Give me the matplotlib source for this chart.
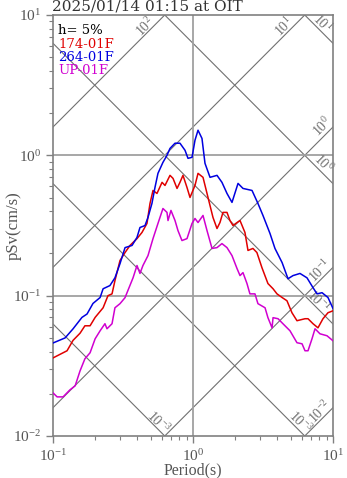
import numpy as np
import matplotlib
matplotlib.use('Agg')
import matplotlib.pyplot as plt

plt.rcParams['font.family'] = ['Liberation Serif', 'DejaVu Serif']
plt.rcParams['mathtext.fontset'] = 'custom'
plt.rcParams['mathtext.rm'] = 'Liberation Serif'

# spectra (period s, pSv cm/s)
t_ew = [0.1, 0.122, 0.139, 0.161, 0.175, 0.193, 0.217, 0.228, 0.255, 0.277,
        0.301, 0.327, 0.367, 0.398, 0.418, 0.454, 0.477, 0.509, 0.535, 0.562,
        0.610, 0.652, 0.685, 0.744, 0.807, 0.877, 0.921, 0.984, 1.033, 1.086,
        1.159, 1.218, 1.323, 1.484, 1.61, 1.749, 1.899, 2.097, 2.275, 2.64,
        2.91, 3.16, 3.55, 3.85, 4.33, 4.77, 5.18, 5.81, 6.52, 7.2,
        7.69, 8.35, 9.21, 10.0]
sv_ew = [0.046, 0.050, 0.058, 0.070, 0.074, 0.088, 0.097, 0.112, 0.118, 0.134,
         0.169, 0.220, 0.228, 0.260, 0.306, 0.316, 0.361, 0.454, 0.590, 0.744,
         0.891, 1.0, 1.12, 1.22, 1.22, 1.086, 0.952, 0.968, 1.28, 1.51,
         1.32, 0.877, 0.697, 0.72, 0.642, 0.535, 0.462, 0.631, 0.581, 0.562,
         0.454, 0.373, 0.277, 0.217, 0.172, 0.132, 0.139, 0.144, 0.134, 0.114,
         0.103, 0.105, 0.097, 0.081]

t_ns = [0.1, 0.126, 0.139, 0.156, 0.169, 0.184, 0.2, 0.228, 0.247, 0.264,
        0.277, 0.301, 0.327, 0.355, 0.398, 0.432, 0.469, 0.493, 0.518, 0.553,
        0.601, 0.631, 0.685, 0.72, 0.769, 0.807, 0.848, 0.906, 0.952, 1.033,
        1.086, 1.179, 1.28, 1.389, 1.484, 1.558, 1.637, 1.749, 1.837, 1.931,
        2.063, 2.167, 2.35, 2.47, 2.68, 2.86, 3.11, 3.43, 3.73, 3.98,
        4.33, 4.69, 5.09, 5.53, 6.31, 6.63, 7.2, 7.81, 8.48, 9.21, 10.0]
sv_ns = [0.036, 0.0405, 0.048, 0.054, 0.061, 0.061, 0.070, 0.082, 0.100, 0.103,
         0.128, 0.178, 0.203, 0.228, 0.255, 0.282, 0.327, 0.454, 0.562, 0.535,
         0.642, 0.61, 0.72, 0.685, 0.581, 0.642, 0.72, 0.59, 0.501, 0.61,
         0.744, 0.697, 0.501, 0.361, 0.301, 0.332, 0.392, 0.392, 0.343, 0.316,
         0.332, 0.343, 0.282, 0.21, 0.217, 0.203, 0.158, 0.122, 0.112, 0.103,
         0.097, 0.092, 0.0756, 0.0663, 0.0685, 0.0685, 0.0631, 0.059, 0.0685, 0.0756, 0.078]

t_ud = [0.1, 0.107, 0.118, 0.132, 0.144, 0.156, 0.169, 0.184, 0.2, 0.217,
        0.235, 0.243, 0.264, 0.277, 0.301, 0.327, 0.343, 0.373, 0.398, 0.418,
        0.439, 0.477, 0.518, 0.562, 0.61, 0.652, 0.663, 0.696, 0.744, 0.781,
        0.834, 0.906, 0.984, 1.033, 1.086, 1.179, 1.259, 1.367, 1.484, 1.61,
        1.749, 1.899, 2.063, 2.167, 2.275, 2.43, 2.55, 2.77, 2.91, 3.27,
        3.43, 3.67, 3.73, 4.05, 4.39, 4.93, 5.53, 6.01, 6.31, 6.63,
        7.08, 7.44, 8.07, 9.06, 10.0]
sv_ud = [0.0203, 0.019, 0.019, 0.0213, 0.0228, 0.0291, 0.0355, 0.0392, 0.0493, 0.0562,
         0.0631, 0.0581, 0.0631, 0.082, 0.0877, 0.0968, 0.109, 0.134, 0.164, 0.144,
         0.164, 0.193, 0.255, 0.327, 0.418, 0.392, 0.343, 0.405, 0.343, 0.291,
         0.247, 0.255, 0.327, 0.355, 0.332, 0.373, 0.291, 0.217, 0.22, 0.235,
         0.22, 0.193, 0.156, 0.139, 0.146, 0.122, 0.103, 0.103, 0.0877, 0.082,
         0.0697, 0.059, 0.0697, 0.0685, 0.0631, 0.0562, 0.0462, 0.0454, 0.0405, 0.0405,
         0.0493, 0.0581, 0.0535, 0.0518, 0.0477]

names = ['174-01F', '264-01F', 'UP-01F']
colors = ['#e00000', '#0000e0', '#d000d0']

# tripartite guide lines: displacement (cm) and acceleration (cm/s2)
disp_exp = [-3, -2, -1, 0, 1]
acc_exp = [-2, -1, 0, 1, 2]

fig = plt.figure(figsize=(3.47, 4.78), dpi=100)
ax = fig.add_axes([53/347, 1 - 436/478, 280/347, 421/478])
ax.set_xscale('log')
ax.set_yscale('log')
ax.set_xlim(0.1, 10)
ax.set_ylim(0.01, 10)

gc = '#808080'
tt = np.logspace(-1, 1, 200)
for k in disp_exp:
    ax.plot(tt, 2*np.pi*10.0**k/tt, color='#707070', lw=0.8, zorder=1)
for m in acc_exp:
    ax.plot(tt, 10.0**m*tt/(2*np.pi), color='#707070', lw=0.8, zorder=1)

ax.axvline(1, color='#a0a0a0', lw=1.3, zorder=1)
ax.axhline(1, color='#a0a0a0', lw=1.3, zorder=1)
ax.axhline(0.1, color='#a0a0a0', lw=1.3, zorder=1)

ax.plot(t_ns, sv_ns, color=colors[0], lw=1.1, zorder=3)
ax.plot(t_ew, sv_ew, color=colors[1], lw=1.1, zorder=3)
ax.plot(t_ud, sv_ud, color=colors[2], lw=1.1, zorder=3)

# labels on the guide lines
lc = '#707070'
lab = [
    (0.454, 8.2, r'$10^{2}$', 45),
    (4.47, 8.2, r'$10^{1}$', 45),
    (8.35, 8.77, r'$10^{1}$', -45),
    (8.35, 1.61, r'$10^{0}$', 45),
    (8.48, 0.877, r'$10^{0}$', -45),
    (8.07, 0.151, r'$10^{-1}$', 45),
    (7.9, 0.092, r'$10^{-1}$', -45),
    (0.562, 0.0126, r'$10^{-3}$', -45),
    (5.81, 0.0126, r'$10^{-3}$', -45),
    (8.07, 0.0148, r'$10^{-2}$', 45),
]
for x, y, s, r in lab:
    ax.text(x, y, s, rotation=r, ha='center', va='center', fontsize=10,
            color=lc, rotation_mode='anchor', zorder=2)

for s in ax.spines.values():
    s.set_color(gc)
    s.set_linewidth(1.2)
ax.tick_params(which='both', direction='out', colors=gc, labelcolor='#555555',
               labelsize=11)
ax.tick_params(which='major', length=5, width=1)
ax.tick_params(which='minor', length=3, width=0.8)

ax.set_xlabel('Period(s)', fontsize=11.5, color='#555555', labelpad=-1)
ax.set_ylabel('pSv(cm/s)', fontsize=12, color='#555555')
ax.yaxis.set_label_coords(-31/280, 0.5)

fig.text(52/347, 1 - 11/478, '2025/01/14 01:15 at OIT', fontsize=11,
         family='DejaVu Serif', color='#333333', ha='left', va='baseline')

tx = 58/347
fig.text(tx, 1 - 34/478, 'h= 5%', fontsize=9.5, family='DejaVu Serif',
         color='black', va='baseline')
fig.text(tx, 1 - 47.5/478, names[0], fontsize=9.5, family='DejaVu Serif',
         color=colors[0], va='baseline')
fig.text(tx, 1 - 61/478, names[1], fontsize=9.5, family='DejaVu Serif',
         color=colors[1], va='baseline')
fig.text(tx, 1 - 74.5/478, names[2], fontsize=9.5, family='DejaVu Serif',
         color=colors[2], va='baseline')

fig.savefig('out.png', dpi=100)
